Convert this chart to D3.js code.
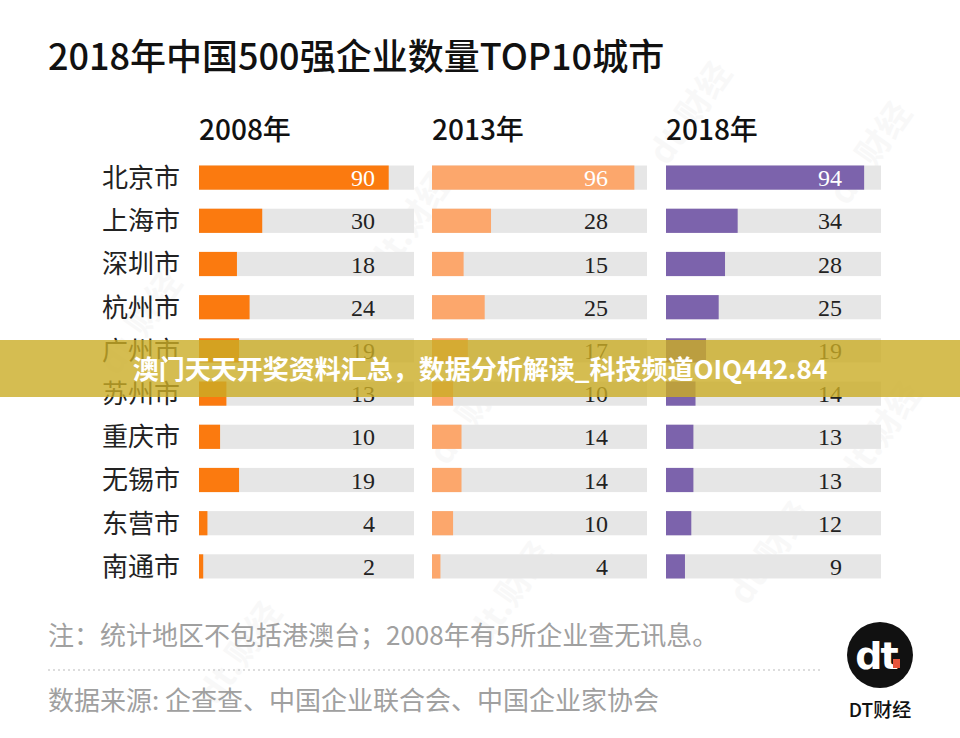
<!DOCTYPE html>
<html><head><meta charset="utf-8">
<script src="https://cdn.jsdelivr.net/npm/d3@7"></script>
<style>body{margin:0;background:#fff}svg{display:block}</style>
</head><body>
<script>
const cities = ["北京市","上海市","深圳市","杭州市","广州市","苏州市","重庆市","无锡市","东营市","南通市"];
const years = ["2008年","2013年","2018年"];
const v2008 = [90,30,18,24,19,13,10,19,4,2];
const v2013 = [96,28,15,25,17,10,14,14,10,4];
const v2018 = [94,34,28,25,19,14,13,13,12,9];
const colors = ["#FB7A0F","#FCA76C","#7C63AC"];
const title = "2018年中国500强企业数量TOP10城市";
const note = "注：统计地区不包括港澳台；2008年有5所企业查无讯息。";
const source = "数据来源: 企查查、中国企业联合会、中国企业家协会";
const banner = "澳门天天开奖资料汇总，数据分析解读_科技频道OIQ442.84";

const W=960,H=738;
const svg=d3.select("body").append("svg").attr("width",W).attr("height",H);
const cjk='"Noto Sans CJK SC","Noto Sans",sans-serif';
const serif='"Liberation Serif","DejaVu Serif",serif';

// faint watermarks
const wm=[[150,330],[420,230],[700,120],[880,160],[250,660],[520,600],[780,560],[890,440],[480,420]];
svg.append("g").selectAll("text").data(wm).join("text")
  .attr("transform",d=>`translate(${d[0]},${d[1]}) rotate(-55)`)
  .attr("text-anchor","middle").attr("font-family",cjk).attr("font-weight",700)
  .attr("font-size",34).attr("fill","#000").attr("opacity",0.022).text("dt.财经");

svg.append("text").attr("x",48).attr("y",70).attr("font-family",cjk).attr("font-weight",500)
  .attr("font-size",36).attr("fill","#111").text(title);

const y=d3.scaleBand().domain(cities).range([156,588]).paddingInner(0.44).paddingOuter(0.22);
const panels=[{x0:199,data:v2008},{x0:432,data:v2013},{x0:666,data:v2018}];
const trackW=215;

svg.append("g").selectAll("text").data(cities).join("text")
  .attr("x",180).attr("y",d=>y(d)+y.bandwidth()/2).attr("dy","0.36em")
  .attr("text-anchor","end").attr("font-family",cjk).attr("font-size",26).attr("fill","#222").text(d=>d);

panels.forEach((p,i)=>{
  const x=d3.scaleLinear().domain([0,102]).range([p.x0,p.x0+trackW]);
  const g=svg.append("g");
  g.append("text").attr("x",p.x0).attr("y",140).attr("font-family",cjk).attr("font-weight",500)
    .attr("font-size",28).attr("fill","#111").text(years[i]);
  g.selectAll("rect.t").data(cities).join("rect").attr("class","t")
    .attr("x",p.x0).attr("y",d=>y(d)).attr("width",trackW).attr("height",y.bandwidth()).attr("fill","#E6E6E6");
  g.selectAll("rect.b").data(p.data).join("rect").attr("class","b")
    .attr("x",p.x0).attr("y",(d,j)=>y(cities[j])).attr("width",d=>x(d)-p.x0).attr("height",y.bandwidth()).attr("fill",colors[i]);
  g.selectAll("text.v").data(p.data).join("text").attr("class","v")
    .attr("x",p.x0+176).attr("y",(d,j)=>y(cities[j])+y.bandwidth()/2).attr("dy","0.36em")
    .attr("text-anchor","end").attr("font-family",serif).attr("font-size",24)
    .attr("fill",(d,j)=>j===0?"#fff":"#222").text(d=>d);
});

// footer
svg.append("text").attr("x",48).attr("y",645).attr("font-family",cjk).attr("font-size",26).attr("fill","#A0A0A0").text(note);
svg.append("line").attr("x1",48).attr("x2",822).attr("y1",670).attr("y2",670)
  .attr("stroke","#BBB").attr("stroke-width",1.2).attr("stroke-dasharray","2,3");
svg.append("text").attr("x",48).attr("y",710).attr("font-family",cjk).attr("font-size",26).attr("fill","#A0A0A0").text(source);

// logo
const lg=svg.append("g").attr("transform","translate(880,655)");
lg.append("circle").attr("r",33).attr("fill","#111");
lg.append("text").attr("x",-4).attr("y",14).attr("text-anchor","middle").attr("font-family",'"DejaVu Sans",sans-serif')
  .attr("font-weight",700).attr("font-size",38).attr("fill","#fff").attr("letter-spacing",-2).text("dt");
lg.append("rect").attr("x",13).attr("y",4).attr("width",7).attr("height",9).attr("fill","#E8553A");
svg.append("text").attr("x",880).attr("y",717).attr("text-anchor","middle").attr("font-family",cjk)
  .attr("font-weight",500).attr("font-size",19).attr("fill","#111").text("DT财经");

// banner overlay
svg.append("rect").attr("x",0).attr("y",340).attr("width",W).attr("height",57).attr("fill","rgb(203,172,38)").attr("opacity",0.8);
svg.append("text").attr("x",480).attr("y",370).attr("dy","0.36em").attr("text-anchor","middle")
  .attr("font-family",cjk).attr("font-weight",700).attr("font-size",26).attr("fill","#fff").text(banner);
</script>
</body></html>
